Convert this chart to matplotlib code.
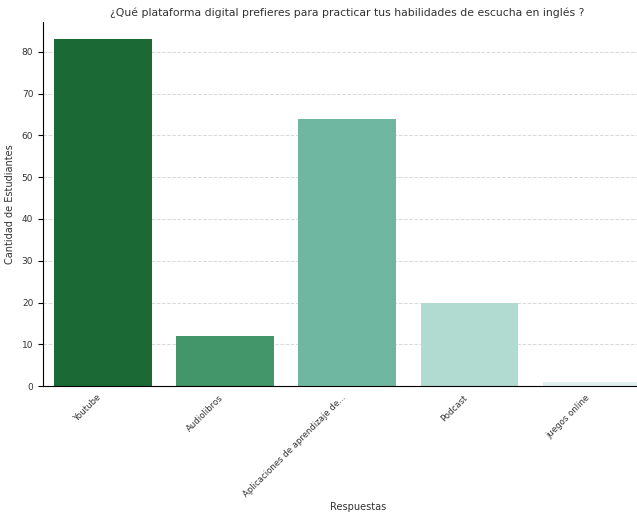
import matplotlib.pyplot as plt
import numpy as np

categories = ["Youtube", "Audiolibros", "Aplicaciones de aprendizaje de...", "Podcast", "juegos online"]
counts = [83, 12, 64, 20, 1]
colors = ["#1b6a36", "#43956a", "#6fb7a0", "#b1dbd1", "#dff1ef"]

fig = plt.figure(figsize=(6.37, 5.14), dpi=100)
ax = fig.add_axes([0.0675, 0.249, 0.99, 0.708])

x = np.arange(len(categories))
ax.bar(x, counts, width=0.8, color=colors, zorder=2)

ax.set_xlim(-0.49, 4.67)
ax.set_ylim(0, 87.15)
ax.set_yticks(range(0, 81, 10))
ax.set_xticks(x)
ax.set_xticklabels(categories, rotation=45, ha="right", fontsize=6.1, color="#333333")
ax.tick_params(axis="y", labelsize=6.5, labelcolor="#333333")
ax.tick_params(axis="x", length=3, direction="in", pad=5)
ax.grid(axis="y", linestyle="--", color="#d9d9d9", linewidth=0.7, zorder=0)

for s in ["top", "right"]:
    ax.spines[s].set_visible(False)

ax.set_xlabel("Respuestas", fontsize=7, color="#333333", labelpad=2)
ax.set_ylabel("Cantidad de Estudiantes", fontsize=7, color="#333333", labelpad=5)
fig.text(0.545, 0.975, "¿Qué plataforma digital prefieres para practicar tus habilidades de escucha en inglés ?",
         ha="center", va="center", fontsize=7.8, color="#333333")

fig.savefig("out.png", dpi=100)
